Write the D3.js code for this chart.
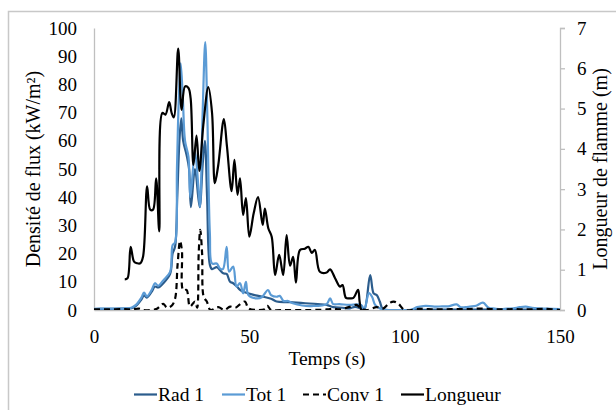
<!DOCTYPE html>
<html>
<head>
<meta charset="utf-8">
<script src="https://cdn.jsdelivr.net/npm/d3@7"></script>
<style>
  body { margin: 0; background: #fff; }
  svg text { font-family: "Liberation Serif", "Times New Roman", serif; fill: #000; }
</style>
</head>
<body>
<svg id="chart" width="616" height="410"></svg>
<script>
// Rad 1 (kW/m²)
var radTime = [0, 2, 5, 8, 10, 12, 13.5, 15.3, 16.1, 17, 18.6, 19.6, 20.7, 22.3, 24.5, 25.3, 26.1, 26.8, 27.5, 28.1, 28.7, 29.8, 30.6, 31.2, 32.5, 34, 35, 35.7, 36.4, 37.3, 38, 39.5, 40.5, 41.6, 42.7, 43.8, 44.8, 46, 47, 48, 49.7, 52, 54.5, 57, 58.8, 62, 64, 68, 72, 74.9, 77, 80, 82.4, 84, 86, 87, 88.9, 90, 91, 92, 93, 95, 100, 110, 120, 130, 140, 150];
var radVal  = [0.3, 0.4, 0.4, 0.5, 0.5, 0.6, 1.5, 3.8, 5.2, 4.4, 6.5, 8.3, 8.0, 9.5, 12.8, 20, 22.5, 40, 60, 68, 60, 55, 50, 36.5, 50, 36.5, 52, 60, 40, 16, 14.5, 15.2, 14.2, 13, 12.8, 10, 9.5, 8.3, 7.1, 6.5, 5.9, 5.2, 4.7, 4.0, 3.0, 2.8, 2.7, 2.4, 2.1, 1.8, 1.0, 0.8, 0.6, 1.1, 0.5, 0.2, 12.4, 5.9, 5.3, 3.0, 0.2, 0, 0, 0.1, 0.1, 0.1, 0.1, 0.1];

// Tot 1 (kW/m²)
var totTime = [0, 2, 5, 8, 10, 12, 13.5, 15.3, 16.1, 17, 18.6, 19.6, 20.7, 22.3, 24.5, 25.3, 26.1, 26.7, 27.3, 27.9, 28.6, 29.3, 30.4, 31, 32.5, 33.5, 34.1, 35, 35.8, 36.5, 37.3, 38, 39.5, 40.5, 41.5, 42.7, 43.5, 44.8, 45.9, 47, 48, 48.9, 49.7, 52.4, 54, 56, 57, 58.8, 59.8, 61, 62.5, 64, 67, 70, 74.9, 76, 77, 79, 82, 86, 87, 88.5, 89.5, 90.5, 92, 93, 95, 100, 102, 104, 106, 108, 110, 112, 114, 116.7, 118, 119.5, 121, 123, 125.2, 127, 129, 131, 133, 135, 137, 139, 141, 143, 146, 150];
var totVal  = [0.4, 0.5, 0.5, 0.5, 0.6, 0.8, 1.8, 4.5, 6.2, 4.8, 7.2, 9.5, 8.6, 10.5, 13.5, 23, 24, 50, 75, 87.5, 75, 60, 54.4, 40, 56, 45, 36.5, 71, 95, 68, 27, 16.5, 16.5, 14.8, 14.5, 22.4, 13.6, 15.4, 8.3, 9.5, 5.9, 10, 5.3, 4.1, 4.5, 7.1, 5.3, 4.7, 5.0, 3.2, 3.2, 2.4, 1.6, 1.4, 2.1, 4.1, 2.1, 2.1, 1.8, 1.8, 0.2, 6.0, 4.7, 1.8, 0.6, 0.2, 0, 0, 0.1, 1.0, 1.4, 1.4, 1.2, 1.3, 1.3, 2.0, 1.0, 1.0, 1.2, 1.5, 2.6, 0.8, 0.5, 0.3, 0.5, 0.6, 1.0, 1.2, 0.8, 0.6, 0.5, 0.3];

// Conv 1 (kW/m²)
var convTime = [0, 5, 10, 12, 14.5, 16, 20, 22.3, 23.5, 25, 26.1, 26.9, 27.7, 28.3, 28.7, 29.8, 30.9, 32.5, 33.2, 33.7, 34.2, 34.8, 35.3, 36.3, 37.5, 40, 42, 43.8, 45.5, 47, 48.6, 49.7, 52, 55, 55.8, 57, 60, 70, 75, 77, 79, 82, 84.5, 86, 88, 91, 93, 95, 96.5, 98, 100, 105, 110, 115, 120, 125, 130, 135, 140, 145, 150];
var convVal  = [0.2, 0.2, 0.3, 0.2, 0.5, 0, 0.3, 2.2, 0.8, 1.5, 4, 16, 24.5, 21, 7, 7.1, 1.2, 3, 0.8, 20, 28.4, 20, 4.7, 3, 0, 1, 0, 1.2, 0.8, 2, 3, 0.6, 0, 0.3, 1.5, 0, 0, 0, 0.2, 0.5, 0.2, 1, 1.8, 0.5, 0, 1, 0.5, 2.4, 3, 2.2, 0, 0.4, 0.2, 0.3, 0.3, 0.5, 0.2, 0.3, 0.2, 0.4, 0];

// Longueur (m), right axis
var lenTime = [9.9, 10.8, 11.8, 12.9, 13.9, 14.9, 15.8, 17.1, 18.1, 19.0, 20.0, 21.0, 22.0, 23.0, 24.2, 25.0, 25.7, 27.1, 28.2, 29.3, 30.4, 31.1, 32.0, 33.0, 33.9, 35.2, 36.8, 38.0, 38.9, 40.0, 41.8, 42.8, 44.3, 45.2, 46.2, 47.0, 48.0, 48.9, 50.0, 51.4, 52.8, 54.3, 55.0, 56.1, 57.2, 58.3, 59.6, 60.9, 62.0, 63.1, 64.1, 65.0, 66.3, 67.9, 69.0, 70.1, 71.1, 72.7, 74.9, 76.0, 77.6, 79.2, 80.0, 81.1, 82.3, 83.5, 85.0, 85.5, 86.1, 86.8];
var lenVal  = [0.76, 0.79, 1.57, 1.2, 1.16, 1.16, 1.33, 3.07, 2.49, 2.49, 3.27, 1.95, 4.89, 4.85, 5.16, 4.89, 4.78, 6.49, 4.97, 5.55, 5.51, 5.26, 3.6, 4.33, 3.45, 4.6, 5.53, 4.89, 3.15, 3.6, 4.74, 4.06, 2.95, 3.73, 2.86, 3.27, 2.36, 2.78, 1.82, 2.4, 2.8, 2.11, 2.52, 2.03, 1.82, 0.87, 1.37, 0.87, 1.86, 1.1, 1.32, 0.68, 1.49, 1.52, 1.57, 1.42, 1.49, 0.95, 0.93, 1.01, 0.79, 0.58, 0.62, 0.3, 0.29, 0.3, 0.5, 0.21, 0, 0];

var xTicks = [0, 50, 100, 150];
var yLeftTicks = [0, 10, 20, 30, 40, 50, 60, 70, 80, 90, 100];
var yRightTicks = [0, 1, 2, 3, 4, 5, 6, 7];

var FONT = "'Liberation Serif', 'Times New Roman', serif";
var svg = d3.select("#chart");

// chart area border
svg.append("rect")
    .attr("x", 8.5).attr("y", 11.5)
    .attr("width", 700).attr("height", 500)
    .attr("fill", "none").attr("stroke", "#c8c8c8").attr("stroke-width", 1.5);

var x = d3.scaleLinear().domain([0, 150]).range([94, 560]);
var yL = d3.scaleLinear().domain([0, 100]).range([310, 28]);
var yR = d3.scaleLinear().domain([0, 7]).range([310, 28]);

svg.append("defs").append("clipPath").attr("id", "plot")
    .append("rect").attr("x", 94).attr("y", 20).attr("width", 466).attr("height", 290);

// axes
var gL = svg.append("g").attr("transform", "translate(94,0)")
    .call(d3.axisLeft(yL).tickValues(yLeftTicks).tickSize(0).tickPadding(17));
var gR = svg.append("g").attr("transform", "translate(560,0)")
    .call(d3.axisRight(yR).tickValues(yRightTicks).tickFormat(d3.format("d")).tickSize(5).tickPadding(12));
var gB = svg.append("g").attr("transform", "translate(0,310)")
    .call(d3.axisBottom(x).tickValues(xTicks).tickSize(0).tickPadding(20));

[gL, gR, gB].forEach(function(g) {
    g.attr("font-family", FONT).attr("font-size", 19);
    g.select(".domain").attr("stroke", "#bfbfbf").attr("stroke-width", 1.3);
    g.selectAll(".tick line").attr("stroke", "#bfbfbf").attr("stroke-width", 1.3);
    g.selectAll(".tick text")
        .style("font-family", FONT)
        .style("font-size", "19px")
        .attr("fill", "#000");
});

// series
function zip(t, v) { return t.map(function(d, i) { return [d, v[i]]; }); }

var lineL = d3.line().x(function(d) { return x(d[0]); }).y(function(d) { return yL(d[1]); })
    .curve(d3.curveCatmullRom.alpha(0.5));
var lineR = d3.line().x(function(d) { return x(d[0]); }).y(function(d) { return yR(d[1]); })
    .curve(d3.curveCatmullRom.alpha(0.5));

var plot = svg.append("g").attr("clip-path", "url(#plot)");

plot.append("path").attr("d", lineL(zip(radTime, radVal)))
    .attr("fill", "none").attr("stroke", "#2B5C8C").attr("stroke-width", 2.2);
plot.append("path").attr("d", lineL(zip(totTime, totVal)))
    .attr("fill", "none").attr("stroke", "#5B9BD5").attr("stroke-width", 2.2);
plot.append("path").attr("d", lineL(zip(convTime, convVal)))
    .attr("fill", "none").attr("stroke", "#000").attr("stroke-width", 2.2)
    .attr("stroke-dasharray", "6,4");
plot.append("path").attr("d", lineR(zip(lenTime, lenVal)))
    .attr("fill", "none").attr("stroke", "#000").attr("stroke-width", 2.2);

// axis titles
svg.append("text")
    .attr("transform", "translate(40,169) rotate(-90)")
    .style("font-family", FONT)
    .style("text-anchor", "middle").style("font-size", "20px")
    .text("Densité de flux (kW/m²)");
svg.append("text")
    .attr("transform", "translate(607,169) rotate(-90)")
    .style("font-family", FONT)
    .style("text-anchor", "middle").style("font-size", "20px")
    .text("Longueur de flamme (m)");
svg.append("text")
    .attr("x", 327).attr("y", 365)
    .style("font-family", FONT)
    .style("text-anchor", "middle").style("font-size", "19.5px")
    .text("Temps (s)");

// legend
var legend = [
    {name: "Rad 1", color: "#2B5C8C", dash: null, x: 134},
    {name: "Tot 1", color: "#5B9BD5", dash: null, x: 222},
    {name: "Conv 1", color: "#000", dash: "6,4", x: 303},
    {name: "Longueur", color: "#000", dash: null, x: 401}
];
legend.forEach(function(l) {
    svg.append("line")
        .attr("x1", l.x).attr("x2", l.x + 23)
        .attr("y1", 394.5).attr("y2", 394.5)
        .attr("stroke", l.color).attr("stroke-width", 2.2)
        .attr("stroke-dasharray", l.dash);
    svg.append("text")
        .attr("x", l.x + 24).attr("y", 401)
        .style("font-family", FONT)
        .style("font-size", "19.5px")
        .text(l.name);
});
</script>
</body>
</html>
